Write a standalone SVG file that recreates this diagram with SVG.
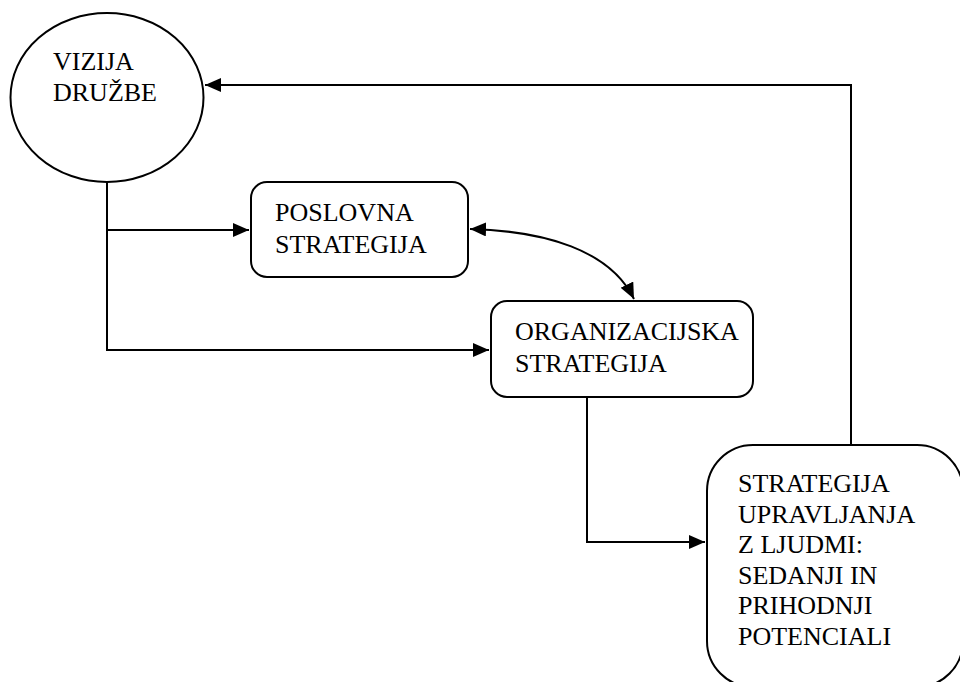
<svg xmlns="http://www.w3.org/2000/svg" width="960" height="682" viewBox="0 0 960 682">
<style>
.shape{fill:#fff;stroke:#000;stroke-width:2}
text{font-family:"Liberation Serif","Times New Roman","DejaVu Serif",serif;font-size:26px;fill:#000}
.conn{fill:none;stroke:#000;stroke-width:2}
</style>
<defs>
<marker id="arr" markerUnits="userSpaceOnUse" markerWidth="17" markerHeight="15" refX="16" refY="7" orient="auto-start-reverse" viewBox="0 0 17 15">
<path d="M0,0 L16,7 L0,14 z" fill="#000"/>
</marker>
</defs>
<rect width="960" height="682" fill="#fff"/>
<g id="connectors">
<path class="conn" d="M851,445 V85 H205" marker-end="url(#arr)"/>
<path class="conn" d="M107,182 V350 H489" marker-end="url(#arr)"/>
<path class="conn" d="M107,230 H249" marker-end="url(#arr)"/>
<path class="conn" d="M470,229 C545,231 610,250 634,299" marker-start="url(#arr)" marker-end="url(#arr)"/>
<path class="conn" d="M587,397 V542 H705" marker-end="url(#arr)"/>
</g>
<g id="vizija" font-family="Liberation Serif, serif">
<ellipse class="shape" cx="107" cy="97.5" rx="96.5" ry="84.5"/>
<text x="53" y="70">VIZIJA</text>
<text x="53" y="101">DRUŽBE</text>
</g>
<g id="poslovna" font-family="Liberation Serif, serif">
<rect class="shape" x="251" y="182" width="217" height="95" rx="16"/>
<text x="275" y="221">POSLOVNA</text>
<text x="275" y="253">STRATEGIJA</text>
</g>
<g id="organizacijska" font-family="Liberation Serif, serif">
<rect class="shape" x="491" y="301" width="262" height="96" rx="16"/>
<text x="515" y="340">ORGANIZACIJSKA</text>
<text x="515" y="372">STRATEGIJA</text>
</g>
<g id="ljudje" font-family="Liberation Serif, serif">
<rect class="shape" x="707" y="445" width="256" height="242" rx="46"/>
<text x="738" y="492">STRATEGIJA</text>
<text x="738" y="522.5">UPRAVLJANJA</text>
<text x="738" y="553">Z LJUDMI:</text>
<text x="738" y="583.5">SEDANJI IN</text>
<text x="738" y="614">PRIHODNJI</text>
<text x="738" y="644.5">POTENCIALI</text>
</g>
</svg>
